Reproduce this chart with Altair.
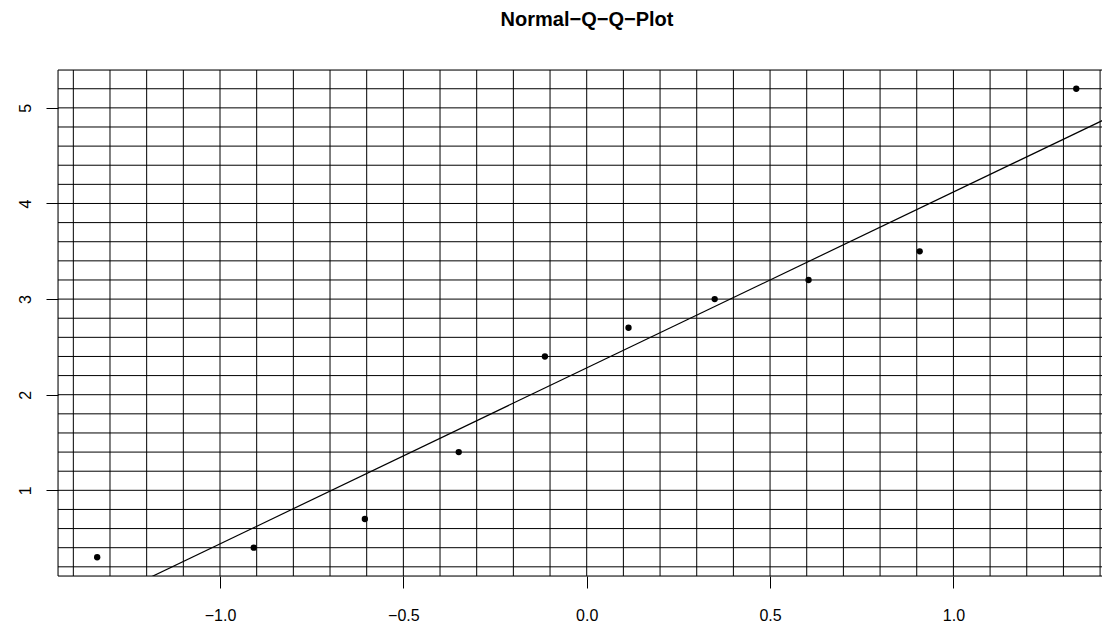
import altair as alt
import pandas as pd

# Data
theoretical = [-1.335, -0.908, -0.605, -0.349, -0.114, 0.114, 0.349, 0.605, 0.908, 1.335]
sample = [0.3, 0.4, 0.7, 1.4, 2.4, 2.7, 3.0, 3.2, 3.5, 5.2]
line_intercept = 2.28
line_slope = 1.84
line_x = [-1.45, 1.45]
grid_x = [-1.4, -1.3, -1.2, -1.1, -1.0, -0.9, -0.8, -0.7, -0.6, -0.5, -0.4, -0.3, -0.2, -0.1,
          0.0, 0.1, 0.2, 0.3, 0.4, 0.5, 0.6, 0.7, 0.8, 0.9, 1.0, 1.1, 1.2, 1.3, 1.4]
grid_y = [0.2, 0.4, 0.6, 0.8, 1.0, 1.2, 1.4, 1.6, 1.8, 2.0, 2.2, 2.4, 2.6, 2.8, 3.0,
          3.2, 3.4, 3.6, 3.8, 4.0, 4.2, 4.4, 4.6, 4.8, 5.0, 5.2]
x_ticks = [-1.0, -0.5, 0.0, 0.5, 1.0]
y_ticks = [1, 2, 3, 4, 5]
x_domain = [-1.4418, 1.4052]
y_domain = [0.104, 5.396]

FONT = "Liberation Sans"

pts = pd.DataFrame({"x": theoretical, "y": sample})
ln = pd.DataFrame({"x": line_x, "y": [line_intercept + line_slope * v for v in line_x]})
gx = pd.DataFrame({"x": grid_x})
gy = pd.DataFrame({"y": grid_y})
bx = pd.DataFrame({"x": [x_domain[0]]})
by = pd.DataFrame({"y": y_domain})

xs = alt.Scale(domain=x_domain, nice=False, zero=False)
ys = alt.Scale(domain=y_domain, nice=False, zero=False)

x_axis = alt.Axis(values=x_ticks, format=".1f", title=None, grid=False, domain=False,
                  tickSize=12, tickColor="black", tickWidth=1, labelFont=FONT,
                  labelFontSize=16, labelColor="black", labelPadding=19, labelFlush=False)
y_axis = alt.Axis(values=y_ticks, format="d", title=None, grid=False, domain=False,
                  tickSize=12, tickColor="black", tickWidth=1, labelFont=FONT,
                  labelFontSize=16, labelColor="black", labelAngle=270,
                  labelAlign="center", labelBaseline="alphabetic", labelPadding=16)

vgrid = alt.Chart(gx).mark_rule(color="black", strokeWidth=1).encode(
    x=alt.X("x:Q", scale=xs, axis=x_axis))
hgrid = alt.Chart(gy).mark_rule(color="black", strokeWidth=1).encode(
    y=alt.Y("y:Q", scale=ys, axis=y_axis))
left_border = alt.Chart(bx).mark_rule(color="black", strokeWidth=1).encode(
    x=alt.X("x:Q", scale=xs))
hborders = alt.Chart(by).mark_rule(color="black", strokeWidth=1).encode(
    y=alt.Y("y:Q", scale=ys))
qqline = alt.Chart(ln).mark_line(color="black", strokeWidth=1.2, clip=True).encode(
    x=alt.X("x:Q", scale=xs), y=alt.Y("y:Q", scale=ys))
points = alt.Chart(pts).mark_circle(color="black", size=40, opacity=1).encode(
    x=alt.X("x:Q", scale=xs), y=alt.Y("y:Q", scale=ys))

chart = alt.layer(vgrid, hgrid, left_border, hborders, qqline, points).properties(
    width=1044,
    height=506,
    title=alt.TitleParams("Normal\u2212Q\u2212Q\u2212Plot", font=FONT, fontSize=20,
                          fontWeight="bold", color="black", anchor="middle",
                          frame="group", offset=40, dx=7),
    autosize=alt.AutoSizeParams(type="none"),
    padding={"left": 50, "top": 62, "right": 0, "bottom": 48},
).configure_view(stroke=None).configure(background="white")

chart.save("out.html", embed_options={"renderer": "svg", "actions": False})
